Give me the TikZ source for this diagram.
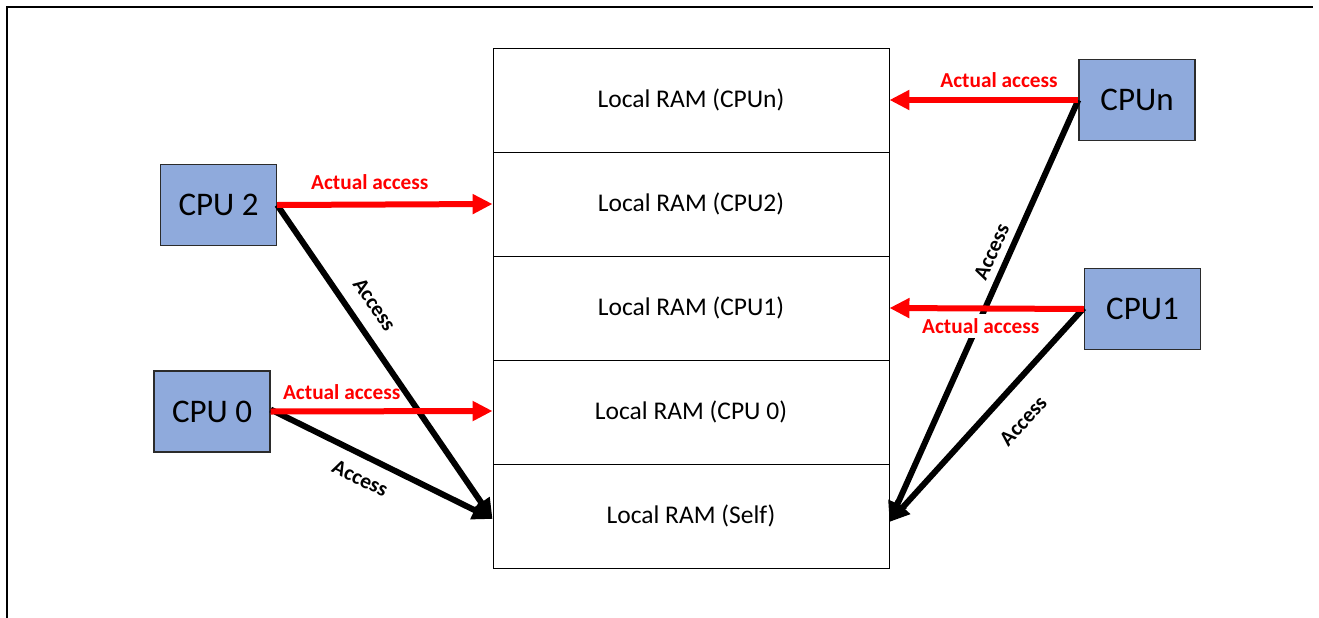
\documentclass[tikz,border=0pt]{standalone}
\usepackage{fontspec}
\setmainfont{Carlito}
\usetikzlibrary{arrows.meta}
\definecolor{cpublue}{HTML}{8FAADC}
\definecolor{cpuedge}{HTML}{2B2B2B}
\begin{document}
\begin{tikzpicture}[x=1pt,y=-1pt,
  rambox/.style={draw=black,line width=0.9pt,minimum width=396pt,minimum height=104pt,inner sep=0pt,font=\fontsize{25.5}{28}\selectfont},
  cpubox/.style={draw=cpuedge,fill=cpublue,line width=1.4pt,minimum width=116pt,minimum height=81pt,inner sep=0pt,font=\fontsize{33}{36}\selectfont},
  actual/.style={draw=red,line width=6pt,-{Triangle[length=20pt,width=19pt]}},
  access/.style={draw=black,line width=6pt,-{Triangle[length=20pt,width=19pt]}},
  redlbl/.style={text=red,inner sep=0pt,font=\fontsize{21.3}{24}\selectfont\bfseries},
  blklbl/.style={text=black,inner sep=0pt,sloped,font=\fontsize{21.5}{24}\selectfont\bfseries}]
\useasboundingbox (0,0) rectangle (1319,618);
\draw[line width=2.2pt] (7,618) -- (7,7) -- (1313,7);
% RAM column
\node[rambox] (ramn) at (691,100) {Local RAM (CPUn)};
\node[rambox] (ram2) at (691,204) {Local RAM (CPU2)};
\node[rambox] (ram1) at (691,308) {Local RAM (CPU1)};
\node[rambox] (ram0) at (691,412) {Local RAM (CPU 0)};
\node[rambox] (self) at (691,516) {Local RAM (Self)};
% CPUs
\node[cpubox] (cpu2) at (218.5,205) {CPU 2};
\node[cpubox] (cpu0) at (212,411.5) {CPU 0};
\node[cpubox] (cpun) at (1137,100) {CPUn};
\node[cpubox] (cpu1) at (1142.5,309) {CPU1};
% access
\draw[access] (cpu2.east) -- ([yshift=-3pt]self.west) node[blklbl,pos=0.36,above=14pt] {Access};
\draw[access] ([yshift=2pt]cpu0.east) -- ([yshift=-3pt]self.west) node[blklbl,pos=0.447,below=12pt] {Access};
\draw[access] (cpun.west) -- ([yshift=-6pt]self.east) node[blklbl,pos=0.377,above=7pt] {Access};
\draw[access] ([yshift=1pt]cpu1.west) -- ([yshift=-6pt]self.east) node[blklbl,pos=0.43,below=21pt] {Access};
% actual access
\draw[actual] (cpu2.east) -- (ram2.west) node[redlbl,pos=0.43,above=12pt] {Actual access};
\draw[actual] (cpu0.east) -- ([yshift=1pt]ram0.west) node[redlbl,pos=0.32,above=9pt] {Actual access};
\draw[actual] (cpun.west) -- (ramn.east) node[redlbl,pos=0.42,above=9pt] {Actual access};
\draw[actual] (cpu1.west) -- (ram1.east) node[redlbl,fill=white,inner xsep=2pt,inner ysep=4pt,pos=0.53,below=3pt] {Actual access};
\end{tikzpicture}
\end{document}
